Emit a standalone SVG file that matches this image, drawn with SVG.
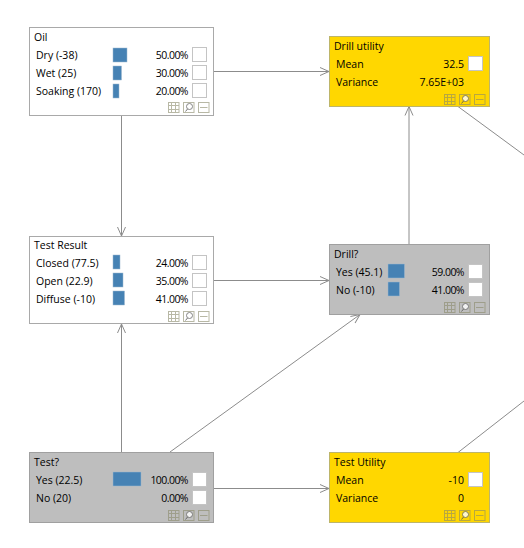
<svg xmlns="http://www.w3.org/2000/svg" width="524" height="548" viewBox="0 0 524 548">
<style>
text{font-family:"Open Sans","Noto Sans","Liberation Sans",sans-serif;font-size:10.5px;fill:#000}
.e{text-anchor:end}
.p{text-anchor:end;letter-spacing:-.55px}
.n{fill:#fff;stroke:#a9a9a9}
.u{fill:#ffd700;stroke:#bdb56a}
.d{fill:#bebebe;stroke:#a0a0a0}
.b{fill:#4682b4;stroke:#9db8d0;stroke-width:.5}
.c{fill:#fff;stroke:#c4c4c4}
.l{fill:none;stroke:#8c8c8c;stroke-width:1}
.i{fill:none;stroke:#8a8a6a;stroke-width:1;opacity:.6}
.g{fill:#fff;stroke:#666;stroke-width:1;opacity:.8}
.h{fill:none;stroke:#555;stroke-width:1;opacity:.8}
</style>
<defs>
<marker id="a" markerUnits="userSpaceOnUse" markerWidth="12" markerHeight="12" refX="10" refY="5" orient="auto" viewBox="0 0 12 10">
<path d="M1 1 L10 5 L1 9" fill="none" stroke="#8c8c8c" stroke-width="1"/>
</marker>
<g id="icons">
<g class="i">
<rect x="0.5" y="0.5" width="10.5" height="10"/><path d="M0.5 3.500H11M0.5 7.500H11M3.500 0.5V10.500M7.500 0.5V10.500"/>
<rect x="15.5" y="0.5" width="10.500" height="10"/>
<rect x="30.5" y="0.5" width="10.500" height="10"/><path d="M32 5.500H39.500"/>
</g>
<circle class="g" cx="21.500" cy="4.500" r="3"/><path class="h" d="M19.500 7L17.500 9.500"/>
</g>
</defs>
<g id="connectors">
<path class="l" marker-end="url(#a)" d="M214 71.500H329"/>
<path class="l" marker-end="url(#a)" d="M121.500 116V236"/>
<path class="l" marker-end="url(#a)" d="M214 280.500H329"/>
<path class="l" marker-end="url(#a)" d="M121.500 452V324"/>
<path class="l" marker-end="url(#a)" d="M170 452L360 314.500"/>
<path class="l" marker-end="url(#a)" d="M214 488.500H329"/>
<path class="l" marker-end="url(#a)" d="M409 244V106.500"/>
<path class="l" d="M458 106.500L524 155"/>
<path class="l" d="M458 452.500L524 401"/>
</g>
<g id="oil">
<rect class="n" x="29.500" y="27.500" width="184" height="88"/>
<text x="34" y="41">Oil</text>
<text x="36" y="59">Dry (-38)</text><text x="36" y="77">Wet (25)</text><text x="36" y="95">Soaking (170)</text>
<rect class="b" x="113" y="48" width="14" height="14"/><rect class="b" x="113" y="66" width="8.500" height="14"/><rect class="b" x="113" y="84" width="6" height="14"/>
<text class="p" x="188" y="59">50.00%</text><text class="p" x="188" y="77">30.00%</text><text class="p" x="188" y="95">20.00%</text>
<rect class="c" x="192.500" y="47.500" width="14" height="14"/><rect class="c" x="192.500" y="65.500" width="14" height="14"/><rect class="c" x="192.500" y="83.500" width="14" height="14"/>
<use href="#icons" x="168" y="102"/>
</g>
<g id="drill-utility">
<rect class="u" x="329.500" y="36.500" width="160" height="70"/>
<text x="334" y="50">Drill utility</text>
<text x="336" y="68">Mean</text><text x="336" y="86">Variance</text>
<text class="e" x="464" y="68">32.5</text><text class="e" x="464" y="86">7.65E+03</text>
<rect class="c" x="468.500" y="56.500" width="14" height="14"/>
<use href="#icons" x="444" y="94"/>
</g>
<g id="test-result">
<rect class="n" x="29.500" y="236.500" width="184" height="87"/>
<text x="34" y="249">Test Result</text>
<text x="36" y="267">Closed (77.5)</text><text x="36" y="285">Open (22.9)</text><text x="36" y="303">Diffuse (-10)</text>
<rect class="b" x="113" y="255" width="7" height="14"/><rect class="b" x="113" y="273" width="10" height="14"/><rect class="b" x="113" y="291" width="11.500" height="14"/>
<text class="p" x="188" y="267">24.00%</text><text class="p" x="188" y="285">35.00%</text><text class="p" x="188" y="303">41.00%</text>
<rect class="c" x="192.500" y="255.500" width="14" height="14"/><rect class="c" x="192.500" y="273.500" width="14" height="14"/><rect class="c" x="192.500" y="291.500" width="14" height="14"/>
<use href="#icons" x="168" y="311"/>
</g>
<g id="drill">
<rect class="d" x="329.500" y="244.500" width="160" height="70"/>
<text x="334" y="258">Drill?</text>
<text x="336" y="276">Yes (45.1)</text><text x="336" y="294">No (-10)</text>
<rect class="b" x="388" y="264" width="16.500" height="14"/><rect class="b" x="388" y="282" width="11.500" height="14"/>
<text class="p" x="464" y="276">59.00%</text><text class="p" x="464" y="294">41.00%</text>
<rect class="c" x="468.500" y="264.500" width="14" height="14"/><rect class="c" x="468.500" y="282.500" width="14" height="14"/>
<use href="#icons" x="444" y="302"/>
</g>
<g id="test">
<rect class="d" x="29.500" y="452.500" width="184" height="70"/>
<text x="34" y="466">Test?</text>
<text x="36" y="484">Yes (22.5)</text><text x="36" y="502">No (20)</text>
<rect class="b" x="113" y="472" width="28" height="14"/>
<text class="p" x="188" y="484">100.00%</text><text class="p" x="188" y="502">0.00%</text>
<rect class="c" x="192.500" y="472.500" width="14" height="14"/><rect class="c" x="192.500" y="490.500" width="14" height="14"/>
<use href="#icons" x="168" y="510"/>
</g>
<g id="test-utility">
<rect class="u" x="329.500" y="452.500" width="160" height="70"/>
<text x="334" y="466">Test Utility</text>
<text x="336" y="484">Mean</text><text x="336" y="502">Variance</text>
<text class="e" x="464" y="484">-10</text><text class="e" x="464" y="502">0</text>
<rect class="c" x="468.500" y="472.500" width="14" height="14"/>
<use href="#icons" x="444" y="510"/>
</g>
</svg>
